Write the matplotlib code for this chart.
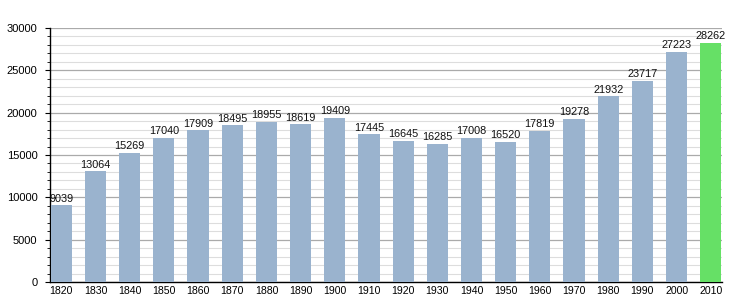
import matplotlib
matplotlib.use("Agg")
import matplotlib.pyplot as plt
from matplotlib.ticker import MultipleLocator

plt.rcParams['font.family'] = ['Liberation Sans', 'DejaVu Sans']

years = [1820, 1830, 1840, 1850, 1860, 1870, 1880, 1890, 1900, 1910,
         1920, 1930, 1940, 1950, 1960, 1970, 1980, 1990, 2000, 2010]
population = [9039, 13064, 15269, 17040, 17909, 18495, 18955, 18619, 19409, 17445,
              16645, 16285, 17008, 16520, 17819, 19278, 21932, 23717, 27223, 28262]

fig = plt.figure(figsize=(7.5, 3.0), dpi=100)
ax = fig.add_axes([0.0667, 0.06, 0.896, 0.8467])

x = list(range(len(years)))
colors = ['#9AB3CE'] * (len(years) - 1) + ['#66E066']
w = 0.62
ax.bar(x, population, width=w, color=colors, zorder=3)

for xi, v in zip(x, population):
    ax.text(xi, v + 200, str(v), ha='center', va='bottom', fontsize=7.8, color='#111111', zorder=4)

ax.set_xlim(-w / 2 - 0.02, len(years) - 1 + w / 2 + 0.02)
ax.set_ylim(0, 30000)
ax.yaxis.set_major_locator(MultipleLocator(5000))
ax.yaxis.set_minor_locator(MultipleLocator(1000))
ax.grid(which='major', axis='y', color='#aaaaaa', linewidth=0.9, zorder=1)
ax.grid(which='minor', axis='y', color='#dddddd', linewidth=0.8, zorder=1)
ax.set_xticks(x)
ax.set_xticklabels([str(y) for y in years])
ax.tick_params(axis='x', length=0, labelsize=7.6, pad=3)
ax.tick_params(axis='y', which='major', length=3.6, labelsize=8, pad=5.5)
ax.tick_params(axis='y', which='minor', length=2)
for s in ['top', 'right']:
    ax.spines[s].set_visible(False)
ax.spines['left'].set_linewidth(1.0)
ax.spines['bottom'].set_linewidth(1.0)

fig.savefig('out.png', dpi=100)
